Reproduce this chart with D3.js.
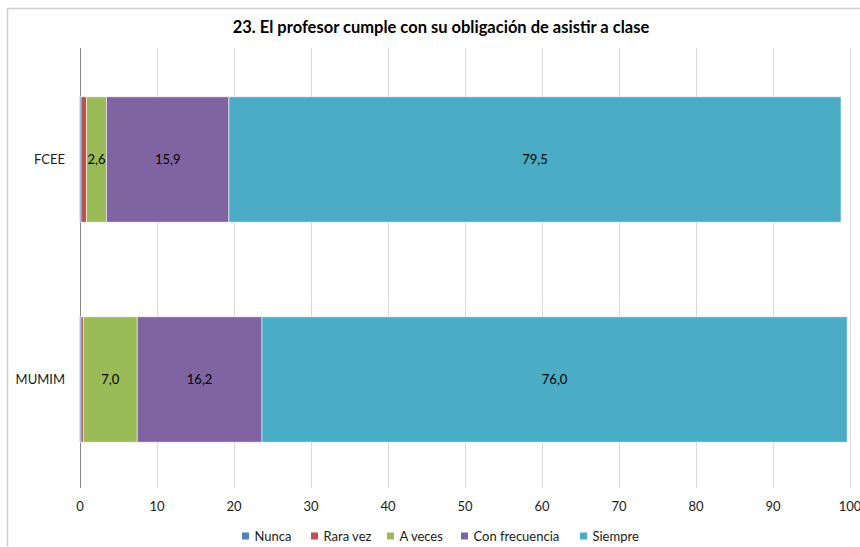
<!DOCTYPE html>
<html>
<head>
<meta charset="utf-8">
<script src="https://cdn.jsdelivr.net/npm/d3@7"></script>
<style>
  html, body { margin: 0; padding: 0; background: #fff; }
  svg { display: block; font-family: Lato, "Open Sans", "Liberation Sans", sans-serif; }
</style>
</head>
<body>
<svg id="chart" width="860" height="547"></svg>
<script>
// Survey answers (percent) per group
const title = "23. El profesor cumple con su obligación de asistir a clase";
const groups = ["FCEE", "MUMIM"];
const seriesNames = ["Nunca", "Rara vez", "A veces", "Con frecuencia", "Siempre"];
const seriesColors = ["#4F81BD", "#C0504D", "#9BBB59", "#8064A2", "#4BACC6"];
const nunca = [0.2, 0.2];
const raraVez = [0.7, 0.3];
const aVeces = [2.6, 7.0];
const conFrecuencia = [15.9, 16.2];
const siempre = [79.5, 76.0];
const tickValues = [0, 10, 20, 30, 40, 50, 60, 70, 80, 90, 100];

const seriesValues = [nunca, raraVez, aVeces, conFrecuencia, siempre];
const rows = groups.map((g, i) => {
  const r = { group: g };
  seriesNames.forEach((s, k) => { r[s] = seriesValues[k][i]; });
  return r;
});

const svg = d3.select("#chart");
const plot = { left: 79.5, right: 849.5, top: 48, bottom: 488 };

// Chart frame (left and top edges visible)
svg.append("path")
  .attr("d", "M7.5,546 L7.5,8.5 L860,8.5")
  .attr("fill", "none")
  .attr("stroke", "#d0d0d0")
  .attr("stroke-width", 1.5);

const x = d3.scaleLinear().domain([0, 100]).range([plot.left, plot.right]);
const y = d3.scaleBand().domain(groups).range([plot.top + 1.5, plot.bottom + 1.5]).paddingInner(0.43).paddingOuter(0.215);

// Vertical gridlines with ticks below
svg.append("g").selectAll("line")
  .data(tickValues.filter(v => v > 0))
  .join("line")
  .attr("x1", d => Math.round(x(d)) + 0.5)
  .attr("x2", d => Math.round(x(d)) + 0.5)
  .attr("y1", plot.top)
  .attr("y2", plot.bottom)
  .attr("stroke", "#d9d9d9")
  .attr("stroke-width", 1);

// Category axis line at zero
svg.append("line")
  .attr("x1", Math.round(x(0)) + 0.5).attr("x2", Math.round(x(0)) + 0.5)
  .attr("y1", plot.top).attr("y2", plot.bottom)
  .attr("stroke", "#868686").attr("stroke-width", 1);

// Value axis labels
const xAxis = d3.axisBottom(x).tickValues(tickValues).tickSize(0).tickPadding(0).tickFormat(d3.format("d"));
const gx = svg.append("g").attr("transform", `translate(0,${plot.bottom + 22})`).call(xAxis);
gx.select(".domain").remove();
gx.selectAll("text")
  .attr("font-family", "Lato, 'Open Sans', sans-serif")
  .attr("font-size", 13)
  .attr("fill", "#1a1a1a")
  .attr("dy", "0.1em");

// Category labels
svg.append("g").selectAll("text")
  .data(groups)
  .join("text")
  .attr("x", 65)
  .attr("y", d => y(d) + y.bandwidth() / 2)
  .attr("dy", "0.35em")
  .attr("text-anchor", "end")
  .attr("font-size", 13)
  .attr("fill", "#1a1a1a")
  .text(d => d);

// Stacked bars
const stack = d3.stack().keys(seriesNames)(rows);
const layers = svg.append("g").selectAll("g")
  .data(stack)
  .join("g")
  .attr("fill", (d, i) => seriesColors[i]);

layers.selectAll("rect")
  .data(d => d)
  .join("rect")
  .attr("x", d => x(d[0]))
  .attr("width", d => Math.max(0, x(d[1]) - x(d[0])))
  .attr("y", d => y(d.data.group))
  .attr("height", y.bandwidth())
  .attr("stroke", "#ffffff")
  .attr("stroke-opacity", 0.7)
  .attr("stroke-width", 0.8);

// Value labels inside segments
const fmt = v => d3.format(".1f")(v).replace(".", ",");
layers.each(function(layer) {
  d3.select(this).selectAll("text")
    .data(layer.filter(d => (d[1] - d[0]) >= 1))
    .join("text")
    .attr("x", d => (x(d[0]) + x(d[1])) / 2)
    .attr("y", d => y(d.data.group) + y.bandwidth() / 2)
    .attr("dy", "0.35em")
    .attr("text-anchor", "middle")
    .attr("font-size", 13)
    .attr("fill", "#000")
    .text(d => fmt(d[1] - d[0]));
});

// Title
svg.append("text")
  .attr("x", 441)
  .attr("y", 33)
  .attr("text-anchor", "middle")
  .attr("font-size", 16.5)
  .attr("font-weight", "bold")
  .attr("fill", "#000")
  .text(title);

// Legend
const legendX = [242, 311, 387, 461, 580];
const legend = svg.append("g").selectAll("g")
  .data(seriesNames)
  .join("g")
  .attr("transform", (d, i) => `translate(${legendX[i]},536)`);
legend.append("rect")
  .attr("x", 0).attr("y", -3.5).attr("width", 7).attr("height", 7)
  .attr("fill", (d, i) => seriesColors[i]);
legend.append("text")
  .attr("x", 12.5).attr("dy", "0.35em")
  .attr("font-size", 13)
  .attr("fill", "#1a1a1a")
  .text(d => d);
</script>
</body>
</html>
